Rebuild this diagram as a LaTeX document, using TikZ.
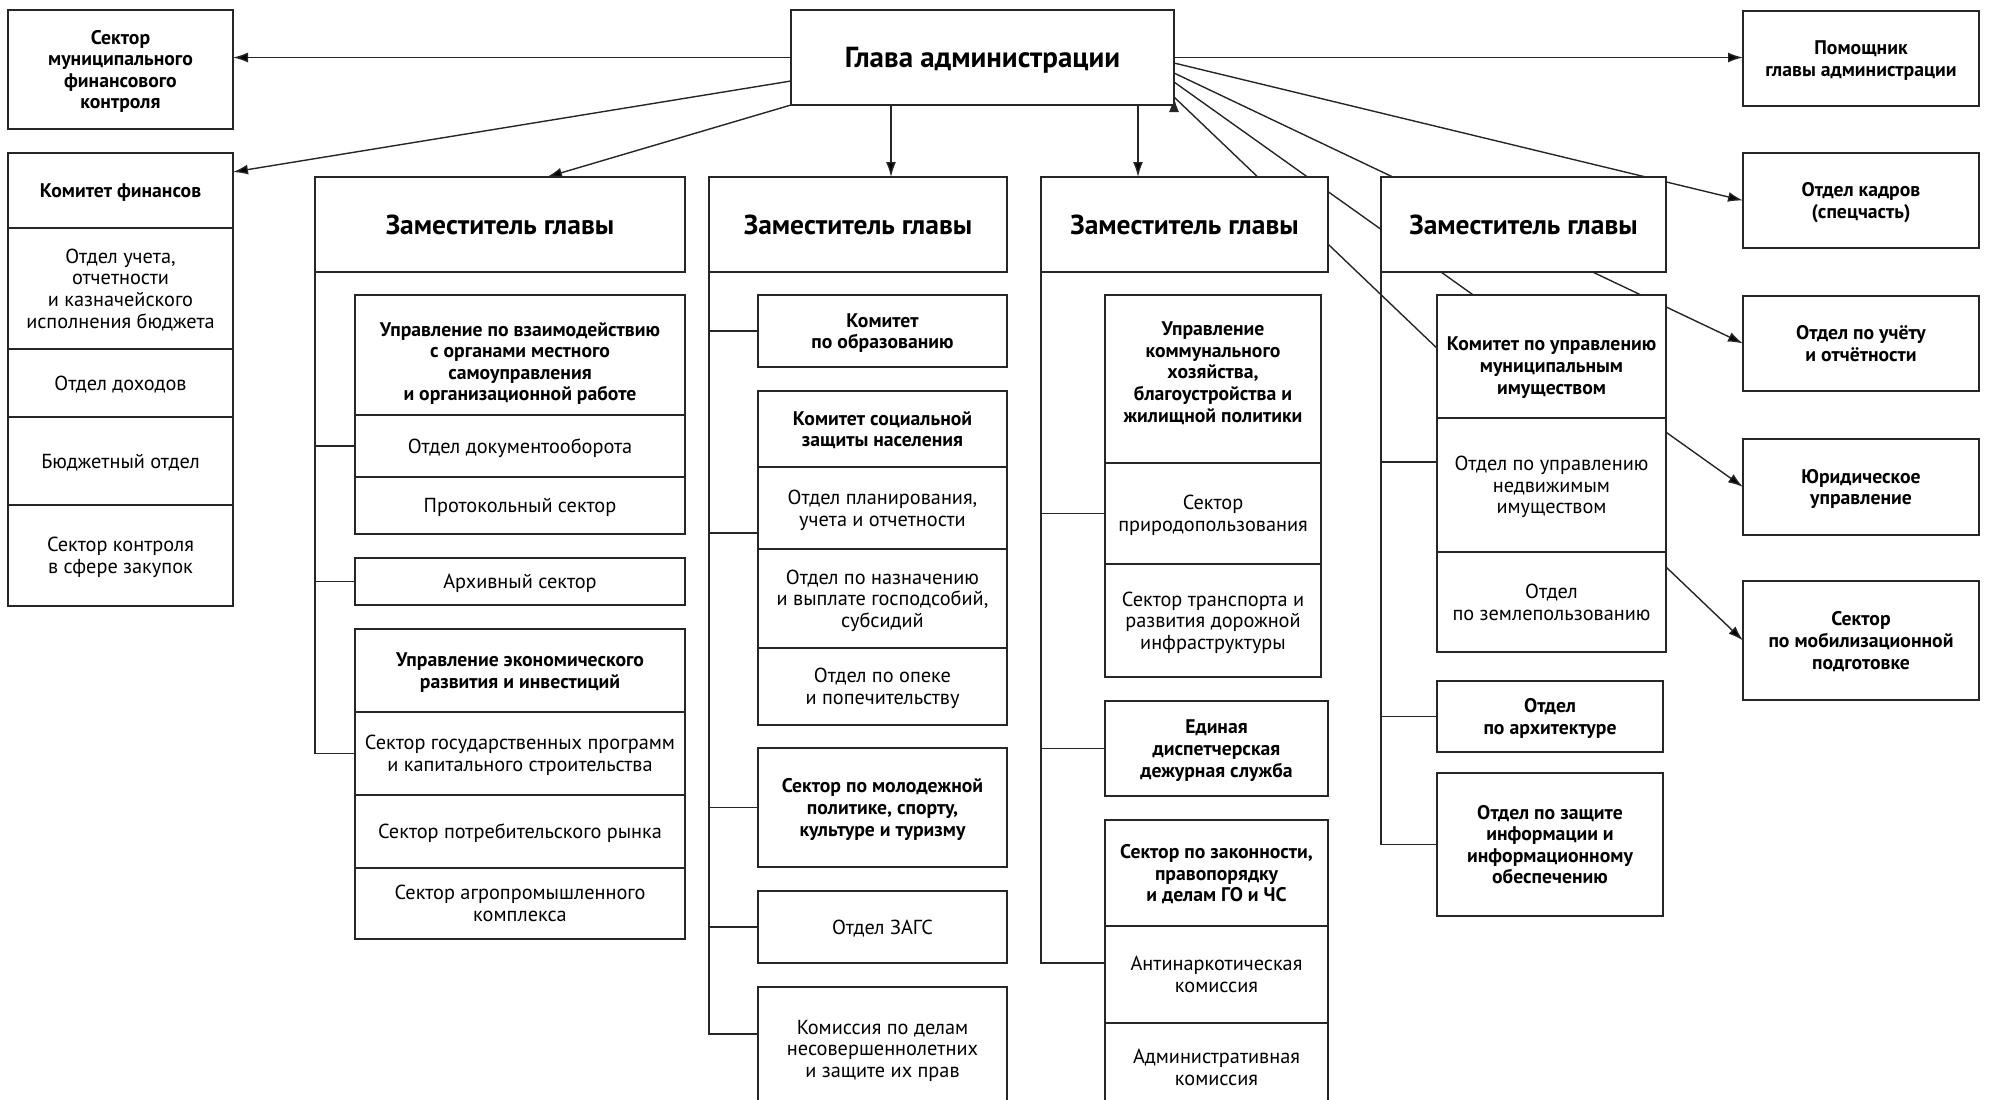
\documentclass[tikz,border=0pt]{standalone}
\usepackage{fontspec}
\setmainfont{PT Sans}
\usetikzlibrary{arrows.meta,positioning,backgrounds}

\begin{document}
\begin{tikzpicture}[x=1pt,y=-1pt,node distance=0pt,
    >={Latex[length=15pt,width=10pt]},
    wh/.style 2 args={minimum width=#1pt,minimum height=#2pt}]
  \tikzstyle{boxR}=[rectangle,draw=black!85,line width=1.5pt,fill=white,outer sep=0pt,
    inner sep=1pt,align=center,text depth=0pt,font=\fontsize{20.3}{21.6}\selectfont]
  \tikzstyle{boxB}=[boxR,font=\bfseries\fontsize{19.7}{21.6}\selectfont]
  \tikzstyle{boxH}=[boxR,font=\bfseries\fontsize{27.5}{30}\selectfont]
  \tikzstyle{link}=[draw=black!85,line width=1.4pt]

  \useasboundingbox (0,0) rectangle (1995,1100);
  \clip (0,0) rectangle (1995,1100);

  % head and staff
  \node[boxH, wh={383}{95}, anchor=north west, font=\bfseries\fontsize{29}{32}\selectfont] (glava) at (791,10) {Глава администрации};
  \node[boxB, wh={225}{119}, anchor=north west] (sec_mfk) at (8,10) {Сектор\\муниципального\\финансового\\контроля};
  \node[boxB, wh={236}{95}, anchor=north west] (r_1) at (1743,11) {Помощник\\главы администрации};
  \node[boxB, wh={236}{95}, anchor=north west] (r_2) at (1743,153) {Отдел кадров\\(спецчасть)};
  \node[boxB, wh={236}{95}, anchor=north west] (r_3) at (1743,296) {Отдел по учёту\\и отчётности};
  \node[boxB, wh={236}{96}, anchor=north west] (r_4) at (1743,439) {Юридическое\\управление};
  \node[boxB, wh={236}{119}, anchor=north west] (r_5) at (1743,581) {Сектор\\по мобилизационной\\подготовке};

  % finance committee
  \node[boxB, wh={225}{75}, anchor=north west] (kf_0) at (8,153) {Комитет финансов};
  \node[boxR, wh={225}{121}, below=of kf_0] (kf_1) {Отдел учета,\\отчетности\\и казначейского\\исполнения бюджета};
  \node[boxR, wh={225}{68}, below=of kf_1] (kf_2) {Отдел доходов};
  \node[boxR, wh={225}{88}, below=of kf_2] (kf_3) {Бюджетный отдел};
  \node[boxR, wh={225}{101}, below=of kf_3] (kf_4) {Сектор контроля\\в сфере закупок};

  % deputies
  \node[boxH, wh={370}{95}, anchor=north west] (zam_1) at (315,177) {Заместитель главы};
  \node[boxH, wh={298}{95}, anchor=north west] (zam_2) at (709,177) {Заместитель главы};
  \node[boxH, wh={287}{95}, anchor=north west] (zam_3) at (1041,177) {Заместитель главы};
  \node[boxH, wh={285}{95}, anchor=north west] (zam_4) at (1381,177) {Заместитель главы};

  % deputy 1
  \node[boxB, wh={330}{120}, anchor=north west] (a_1) at (355,295) {\rule{0pt}{26.8pt}Управление по взаимодействию\\с органами местного\\самоуправления\\и организационной работе};
  \node[boxR, wh={330}{62}, below=of a_1] (a_2) {Отдел документооборота};
  \node[boxR, wh={330}{57}, below=of a_2] (a_3) {Протокольный сектор};
  \node[boxR, wh={330}{47}, anchor=north west] (a_4) at (355,558) {Архивный сектор};
  \node[boxB, wh={330}{83}, anchor=north west] (a_5) at (355,629) {Управление экономического\\развития и инвестиций};
  \node[boxR, wh={330}{83}, below=of a_5] (a_6) {Сектор государственных программ\\и капитального строительства};
  \node[boxR, wh={330}{73}, below=of a_6] (a_7) {Сектор потребительского рынка};
  \node[boxR, wh={330}{71}, below=of a_7] (a_8) {Сектор агропромышленного\\комплекса};

  % deputy 2
  \node[boxB, wh={249}{72}, anchor=north west] (b_1) at (758,295) {Комитет\\по образованию};
  \node[boxB, wh={249}{76}, anchor=north west] (b_2) at (758,391) {Комитет социальной\\защиты населения};
  \node[boxR, wh={249}{82}, below=of b_2] (b_3) {Отдел планирования,\\учета и отчетности};
  \node[boxR, wh={249}{99}, below=of b_3] (b_4) {Отдел по назначению\\и выплате господсобий,\\субсидий};
  \node[boxR, wh={249}{77}, below=of b_4] (b_5) {Отдел по опеке\\и попечительству};
  \node[boxB, wh={249}{119}, anchor=north west] (b_6) at (758,748) {Сектор по молодежной\\политике, спорту,\\культуре и туризму};
  \node[boxR, wh={249}{72}, anchor=north west] (b_7) at (758,891) {Отдел ЗАГС};
  \node[boxR, wh={249}{123}, anchor=north west] (b_8) at (758,987) {Комиссия по делам\\несовершеннолетних\\и защите их прав};

  % deputy 3
  \node[boxB, wh={216}{168}, anchor=north west, text depth=14pt] (c_1) at (1105,295) {Управление\\коммунального\\хозяйства,\\благоустройства и\\жилищной политики};
  \node[boxR, wh={216}{101}, below=of c_1] (c_2) {Сектор\\природопользования};
  \node[boxR, wh={216}{113}, below=of c_2] (c_3) {Сектор транспорта и\\развития дорожной\\инфраструктуры};
  \node[boxB, wh={223}{95}, anchor=north west] (c_4) at (1105,701) {Единая\\диспетчерская\\дежурная служба};
  \node[boxB, wh={223}{106}, anchor=north west] (c_5) at (1105,820) {Сектор по законности,\\правопорядку\\и делам ГО и ЧС};
  \node[boxR, wh={223}{97}, below=of c_5] (c_6) {Антинаркотическая\\комиссия};
  \node[boxR, wh={223}{88}, below=of c_6] (c_7) {Административная\\комиссия};

  % deputy 4
  \node[boxB, wh={229}{123}, anchor=north west] (d_1) at (1437,295) {\rule{0pt}{32pt}Комитет по управлению\\муниципальным\\имуществом};
  \node[boxR, wh={229}{134}, below=of d_1] (d_2) {Отдел по управлению\\недвижимым\\имуществом};
  \node[boxR, wh={229}{100}, below=of d_2] (d_3) {Отдел\\по землепользованию};
  \node[boxB, wh={226}{71}, anchor=north west] (d_4) at (1437,681) {Отдел\\по архитектуре};
  \node[boxB, wh={226}{143}, anchor=north west] (d_5) at (1437,773) {Отдел по защите\\информации и\\информационному\\обеспечению};

  \coordinate (dn_2) at ([xshift=-91.5pt]glava.south);
  \coordinate (dn_3) at ([xshift=155.5pt]glava.south);

  \begin{pgfonlayer}{background}
    % links from the head
    \path[link,->] (glava.west) edge (glava.west -| sec_mfk.east)
      ([yshift=-23.5pt]glava.west) edge ([yshift=18.5pt]kf_0.east)
      (glava.south west) edge ([xshift=47pt]zam_1.north)
      (dn_2) edge (dn_2 |- zam_2.north)
      (dn_3) edge (dn_3 |- zam_3.north)
      (glava.east) edge (glava.east -| r_1.west)
      ([yshift=-5.5pt]glava.east) edge (r_2.west)
      ([yshift=-15.5pt]glava.east) edge (r_3.west)
      ([yshift=-24.5pt]glava.east) edge (r_4.west)
      ([yshift=-39.5pt]glava.east) edge (r_5.west);

    % subordinate units
    \draw[link] (zam_1.south west) |- (a_2.west)
      (zam_1.south west) |- (a_4.west)
      (zam_1.south west) |- (a_6.west);
    \draw[link] (zam_2.south west) |- (b_1.west)
      (zam_2.south west) |- ([yshift=-25pt]b_3.west)
      (zam_2.south west) |- (b_6.west)
      (zam_2.south west) |- (b_7.west)
      (zam_2.south west) |- ([yshift=14.5pt]b_8.west);
    \draw[link] (zam_3.south west) |- (c_2.west)
      (zam_3.south west) |- (c_4.west)
      (zam_3.south west) |- ([yshift=11.5pt]c_6.west);
    \draw[link] (zam_4.south west) |- ([yshift=23pt]d_2.west)
      (zam_4.south west) |- (d_4.west)
      (zam_4.south west) |- (d_5.west);
  \end{pgfonlayer}
\end{tikzpicture}
\end{document}
